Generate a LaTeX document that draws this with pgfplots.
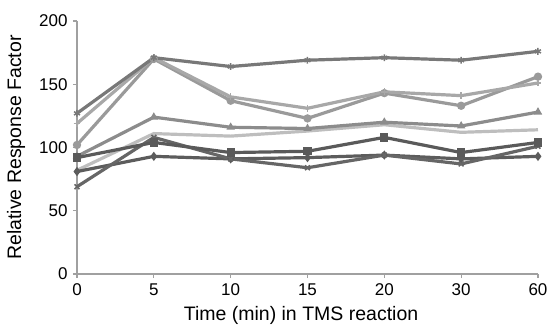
\documentclass[border=0pt]{standalone}
\usepackage{pgfplots}
\pgfplotsset{compat=1.18}
\usepackage{fontspec}
\setmainfont{Liberation Sans}
\definecolor{axgray}{HTML}{A0A0A0}
\definecolor{cA}{HTML}{787878}
\definecolor{cB}{HTML}{A8A8A8}
\definecolor{cC}{HTML}{9A9A9A}
\definecolor{cD}{HTML}{8C8C8C}
\definecolor{cE}{HTML}{BEBEBE}
\definecolor{cF}{HTML}{5A5A5A}
\definecolor{cG}{HTML}{666666}
\definecolor{cH}{HTML}{5C5C5C}
\begin{document}
\begin{tikzpicture}
\path[use as bounding box] (-77pt,-53pt) rectangle (470pt,274pt);
\begin{axis}[
  at={(0pt,0pt)}, anchor=origin,
  scale only axis, width=461pt, height=253pt,
  xmin=0, xmax=6, ymin=0, ymax=200,
  axis x line*=bottom, axis y line*=left,
  axis line style={draw=axgray, line width=1.6pt, -},
  xtick={0,1,2,3,4,5,6}, xticklabels={0,5,10,15,20,30,60},
  ytick={0,50,100,150,200},
  tick align=outside, major tick length=4pt,
  tick style={draw=axgray, line width=1.2pt},
  /pgf/number format/assume math mode=true,
  tick label style={font=\fontsize{17}{19}\selectfont},
  xticklabel style={yshift=-2pt},
  yticklabel style={xshift=-2pt},
  xlabel={Time (min) in TMS reaction},
  ylabel={Relative Response Factor},
  every axis x label/.style={at={(axis description cs:0.486,-0.162)},anchor=center,font=\fontsize{19.5}{22}\selectfont},
  every axis y label/.style={at={(axis description cs:-0.132,0.5)},rotate=90,anchor=center,font=\fontsize{19.5}{22}\selectfont},
  every axis plot/.append style={line width=3.2pt, mark size=3.4pt, mark options={solid, line width=1.5pt}},
  clip=false,
]
\addplot[color=cE, mark=none] coordinates {(0,82) (1,111) (2,109) (3,113) (4,118) (5,112) (6,114)};
\addplot[color=cD, mark=triangle*] coordinates {(0,93) (1,124) (2,116) (3,115) (4,120) (5,117) (6,128)};
\addplot[color=cC, mark=*] coordinates {(0,102) (1,170) (2,137) (3,123) (4,143) (5,133) (6,156)};
\addplot[color=cB, mark=+] coordinates {(0,119) (1,171) (2,140) (3,131) (4,144) (5,141) (6,151)};
\addplot[color=cA, mark=asterisk] coordinates {(0,127) (1,171) (2,164) (3,169) (4,171) (5,169) (6,176)};
\addplot[color=cH, mark=diamond*] coordinates {(0,81) (1,93) (2,91) (3,92) (4,94) (5,91) (6,93)};
\addplot[color=cG, mark=x] coordinates {(0,69) (1,108) (2,91) (3,84) (4,94) (5,87) (6,101)};
\addplot[color=cF, mark=square*] coordinates {(0,92) (1,104) (2,96) (3,97) (4,108) (5,96) (6,104)};
\end{axis}
\end{tikzpicture}
\end{document}
